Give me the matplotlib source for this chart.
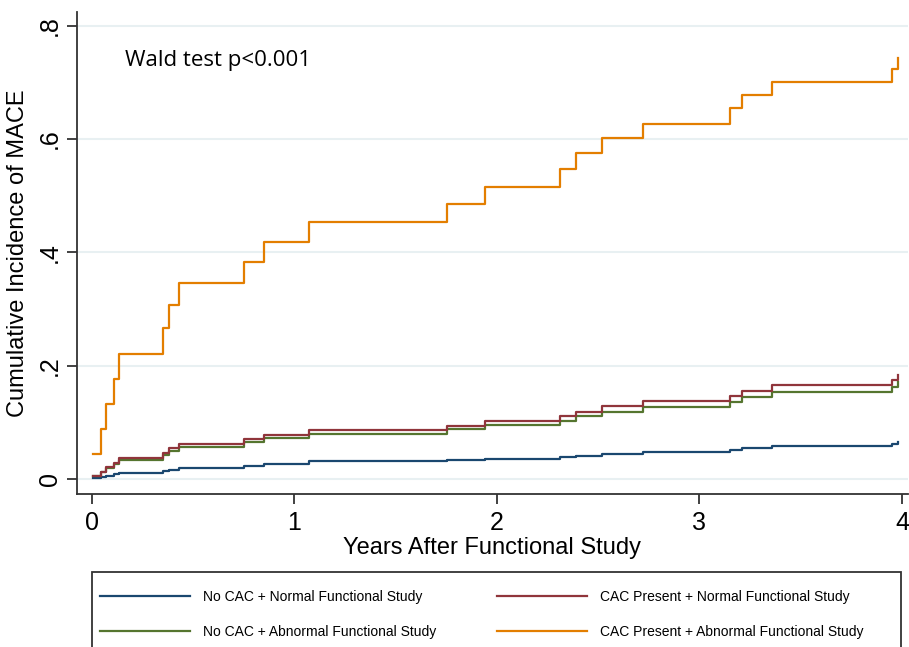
import matplotlib
matplotlib.use("Agg")
import matplotlib.pyplot as plt
from matplotlib.patches import Rectangle

# event times (years) shared by all four curves
times = [0.007, 0.043, 0.069, 0.11, 0.133, 0.349, 0.38, 0.431, 0.749, 0.849,
         1.07, 1.751, 1.939, 2.309, 2.39, 2.52, 2.72, 3.149, 3.21, 3.36,
         3.949, 3.98]

no_cac_normal = [0.002, 0.0035, 0.006, 0.008, 0.011, 0.014, 0.016, 0.020, 0.0235, 0.027,
                 0.031, 0.0335, 0.036, 0.038, 0.041, 0.044, 0.048, 0.051, 0.055, 0.058,
                 0.061, 0.065]
no_cac_abnormal = [0.005, 0.012, 0.020, 0.027, 0.034, 0.042, 0.049, 0.057, 0.065, 0.072,
                   0.080, 0.088, 0.095, 0.103, 0.111, 0.119, 0.127, 0.135, 0.144, 0.153,
                   0.162, 0.171]
cac_normal = [0.006, 0.013, 0.022, 0.029, 0.037, 0.045, 0.054, 0.061, 0.071, 0.078,
              0.086, 0.094, 0.103, 0.111, 0.119, 0.128, 0.137, 0.146, 0.155, 0.165,
              0.174, 0.184]
cac_abnormal = [0.044, 0.088, 0.133, 0.177, 0.221, 0.266, 0.307, 0.346, 0.383, 0.419,
                0.453, 0.485, 0.516, 0.547, 0.575, 0.602, 0.627, 0.654, 0.677, 0.700,
                0.723, 0.743]

labels = ["No CAC + Normal Functional Study",
          "No CAC + Abnormal Functional Study",
          "CAC Present + Normal Functional Study",
          "CAC Present + Abnormal Functional Study"]
colors = ["#1a476f", "#55752f", "#90353b", "#e37e00"]
series = [no_cac_normal, no_cac_abnormal, cac_normal, cac_abnormal]

yticks = [0, 0.2, 0.4, 0.6, 0.8]
ytick_labels = ["0", ".2", ".4", ".6", ".8"]
xticks = [0, 1, 2, 3, 4]

plt.rcParams['font.family'] = ['Liberation Sans', 'DejaVu Sans']

W, H = 909, 647
fig = plt.figure(figsize=(W / 100, H / 100), dpi=100)
ax = fig.add_axes([77 / W, 1 - 494 / H, (908 - 77) / W, (494 - 12) / H])

lines = []
for vals, c, lab in zip(series, colors, labels):
    ln, = ax.step(times, vals, where='post', color=c, lw=1.6, label=lab)
    lines.append(ln)

ax.set_xlim(-0.074, 4.03)
ax.set_ylim(-0.0265, 0.824)
ax.set_yticks(yticks)
ax.set_yticklabels(ytick_labels, rotation=90, va='center')
ax.set_xticks(xticks)
ax.grid(axis='y', color='#e8f0f2', lw=1.5)
ax.set_axisbelow(True)
for s in ['top', 'right']:
    ax.spines[s].set_visible(False)
for s in ['left', 'bottom']:
    ax.spines[s].set_linewidth(1.3)
    ax.spines[s].set_color('#333333')
ax.tick_params(axis='both', length=7, width=1.3, color='#333333', pad=4)
ax.tick_params(axis='y', labelsize=18)
ax.tick_params(axis='x', labelsize=18, pad=5)
ax.set_xlabel("Years After Functional Study", fontsize=17, labelpad=2)
ax.set_ylabel("Cumulative Incidence of MACE", fontsize=17, labelpad=6)

ax.text(0.165, 0.738, "Wald test p<0.001", fontsize=16, family=['Open Sans', 'DejaVu Sans'],
        va='center', ha='left')

# legend frame (bottom runs off the figure)
fig.patches.append(Rectangle((92 / W, -0.05), (901 - 92) / W, 0.05 + 1 - 572 / H,
                             transform=fig.transFigure, fill=False, lw=1.3,
                             edgecolor='#333333'))
leg_kw = dict(frameon=False, loc='upper left', fontsize=10, borderpad=0,
              borderaxespad=0, handlelength=6.5, handletextpad=0.95, labelspacing=1.5)
fig.legend(lines[:2], labels[:2], bbox_to_anchor=(100 / W, 1 - 590 / H), **leg_kw)
fig.legend(lines[2:], labels[2:], bbox_to_anchor=(497 / W, 1 - 590 / H), **leg_kw)

fig.savefig("out.png", dpi=100)
